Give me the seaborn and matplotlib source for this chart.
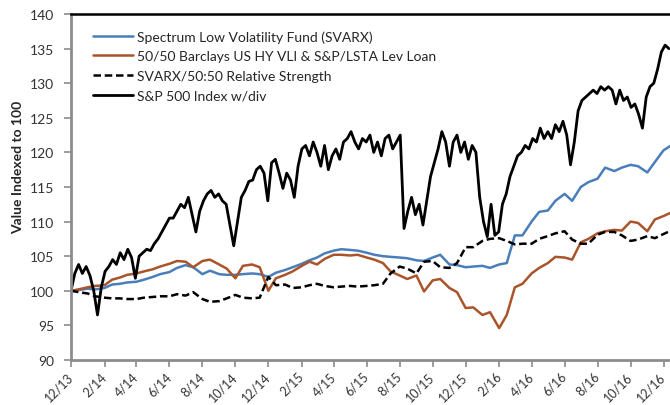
import numpy as np
import pandas as pd
import matplotlib
import matplotlib.pyplot as plt
import matplotlib.transforms as mtransforms
import seaborn as sns

matplotlib.use('Agg')

# semi-monthly sample dates (1st and 15th), Dec 2013 .. Dec 2016
dates = pd.date_range('2013-12-01', periods=74, freq='SMS')
# weekly sample dates for the S&P line (it is much noisier)
sp_dates = pd.date_range('2013-12-01', periods=159, freq='7D')

svarx = [100.0, 100.1, 100.3, 100.2, 100.4, 100.9, 101.0, 101.2, 101.3, 101.6,
         102.0, 102.4, 102.7, 103.3, 103.7, 103.4, 102.4, 102.9, 102.4, 102.3,
         102.3, 102.4, 102.5, 102.4, 102.0, 102.6, 103.0, 103.4, 103.9, 104.4,
         104.8, 105.4, 105.8, 106.0, 105.9, 105.8, 105.5, 105.2, 105.0, 104.9,
         104.8, 104.7, 104.4, 104.3, 104.8, 105.2, 103.8, 103.7, 103.4, 103.5,
         103.6, 103.3, 103.8, 104.0, 108.0, 108.0, 110.0, 111.4, 111.6, 113.0,
         114.0, 113.0, 115.0, 115.7, 116.2, 117.8, 117.3, 117.8, 118.2, 118.0,
         117.1, 118.6, 120.3, 121.0]

hy_blend = [100.0, 100.2, 100.5, 100.7, 100.8, 101.6, 101.9, 102.3, 102.5, 102.8,
            103.1, 103.5, 103.9, 104.3, 104.2, 103.4, 104.3, 104.5, 103.8, 103.2,
            101.8, 103.6, 103.8, 103.4, 100.0, 101.8, 102.3, 102.8, 103.6, 104.2,
            103.8, 104.6, 105.2, 105.2, 105.1, 105.2, 104.8, 104.5, 104.0, 102.8,
            102.2, 101.7, 102.2, 99.9, 101.5, 101.7, 100.4, 99.8, 97.5, 97.6,
            96.5, 96.9, 94.6, 96.5, 100.5, 101.0, 102.5, 103.3, 104.0, 104.9,
            104.8, 104.5, 107.0, 107.5, 108.3, 108.6, 108.8, 108.7, 110.0, 109.8,
            108.6, 110.3, 110.8, 111.3]

rel_strength = [100.0, 99.8, 99.6, 99.2, 99.0, 98.9, 98.9, 98.8, 98.8, 99.0,
                99.1, 99.2, 99.2, 99.5, 99.3, 99.8, 98.8, 98.4, 98.5, 98.9,
                99.4, 99.0, 98.9, 99.0, 102.0, 100.8, 100.9, 100.4, 100.5, 100.8,
                101.0, 100.7, 100.5, 100.6, 100.7, 100.6, 100.7, 100.8, 101.0, 102.5,
                103.5, 103.2, 102.5, 104.2, 104.3, 103.4, 103.3, 104.0, 106.3, 106.3,
                107.2, 107.5, 107.6, 107.2, 106.7, 106.8, 106.8, 107.5, 107.9, 108.3,
                108.6, 107.4, 106.8, 106.8, 108.1, 108.5, 108.5, 108.0, 107.2, 107.4,
                107.9, 107.6, 108.2, 108.7]

sp500 = [100.0, 102.5, 103.8, 102.5, 103.5, 102.2, 100.0, 96.5, 100.5, 102.8,
         103.5, 104.5, 103.8, 105.5, 104.5, 106.0, 104.8, 101.8, 105.0, 105.5,
         106.0, 105.8, 106.8, 107.5, 108.5, 109.5, 110.5, 110.5, 111.5, 112.5,
         112.0, 113.5, 111.0, 108.5, 111.5, 113.0, 114.0, 114.5, 113.5, 114.0,
         113.0, 112.5, 109.5, 106.5, 110.0, 113.5, 114.5, 115.8, 116.0, 117.5,
         118.0, 117.0, 113.0, 118.5, 119.0, 117.0, 114.8, 117.0, 116.0, 113.5,
         118.0, 120.5, 121.0, 119.5, 121.5, 120.0, 118.0, 121.0, 117.5, 119.5,
         120.5, 119.0, 121.5, 122.0, 123.0, 121.5, 120.5, 122.0, 121.5, 122.5,
         120.0, 121.5, 119.5, 122.0, 122.5, 120.5, 121.5, 122.5, 109.0, 111.5,
         113.5, 111.0, 112.5, 109.5, 113.0, 116.5, 118.5, 120.5, 123.0, 121.5,
         118.0, 121.5, 122.5, 120.0, 121.5, 119.0, 121.0, 120.0, 113.5, 110.0,
         107.8, 112.5, 108.0, 108.5, 112.5, 114.0, 116.5, 118.0, 119.5, 120.0,
         121.0, 120.5, 122.0, 121.5, 123.5, 122.0, 123.0, 122.0, 124.0, 123.0,
         124.5, 122.5, 118.2, 121.5, 126.0, 127.5, 128.0, 128.5, 129.0, 128.5,
         129.5, 129.0, 129.5, 129.0, 127.0, 129.0, 127.5, 128.0, 126.5, 127.0,
         125.5, 123.5, 128.0, 129.5, 130.0, 132.0, 134.5, 135.5, 135.0]

labels = ['Spectrum Low Volatility Fund (SVARX)',
          '50/50 Barclays US HY VLI & S&P/LSTA Lev Loan',
          'SVARX/50:50 Relative Strength',
          'S&P 500 Index w/div']

tick_dates = pd.date_range('2013-12-01', '2016-12-01', freq='2MS')
tick_labels = [f"{d.month}/{d.strftime('%y')}" for d in tick_dates]

sns.set_style('white')
plt.rcParams['font.family'] = ['Lato', 'DejaVu Sans']

fig = plt.figure(figsize=(6.7, 4.06), dpi=100)
ax = fig.add_axes([0.106, 0.111, 0.894, 0.852])

sns.lineplot(x=dates, y=svarx, ax=ax, color='#4A7EBB', linewidth=1.8, label=labels[0])
sns.lineplot(x=dates, y=hy_blend, ax=ax, color='#A9542A', linewidth=1.8, label=labels[1])
sns.lineplot(x=dates, y=rel_strength, ax=ax, color='black', linewidth=1.8,
             linestyle=(0, (3, 1.5)), label=labels[2])
sns.lineplot(x=sp_dates, y=sp500, ax=ax, color='black', linewidth=2.0, label=labels[3])

ax.set_ylim(90, 140)
ax.set_yticks(range(90, 141, 5))
ax.set_xlim(pd.Timestamp('2013-12-01'), pd.Timestamp('2016-12-13'))
ax.set_xticks(tick_dates)
ax.set_xticklabels(tick_labels, rotation=45, ha='right', rotation_mode='anchor')
ax.set_xlabel('')
ax.set_ylabel('Value Indexed to 100', fontsize=10, fontweight='bold')
ax.yaxis.set_label_coords(-0.078, 0.56)
ax.tick_params(axis='both', labelcolor='#333333', length=5, width=1.2,
               direction='out', bottom=True, left=True, color='#8C8C8C')
ax.tick_params(axis='y', pad=7, labelsize=10)
ax.tick_params(axis='x', pad=2, labelsize=9)

# nudge the rotated date labels a little to the left
offset = mtransforms.ScaledTranslation(-3 / 72, 0, fig.dpi_scale_trans)
for lbl in ax.get_xticklabels():
    lbl.set_transform(lbl.get_transform() + offset)

for side in ['left', 'bottom']:
    ax.spines[side].set_color('#8C8C8C')
    ax.spines[side].set_linewidth(2)
ax.spines['top'].set_color('black')
ax.spines['top'].set_linewidth(1.8)
ax.spines['right'].set_visible(False)

ax.legend(loc='upper left', bbox_to_anchor=(0.015, 0.99), frameon=False,
          fontsize=10, handlelength=2.9, handletextpad=0.3, labelspacing=0.55)

fig.savefig('out.png', dpi=100)
plt.close(fig)
